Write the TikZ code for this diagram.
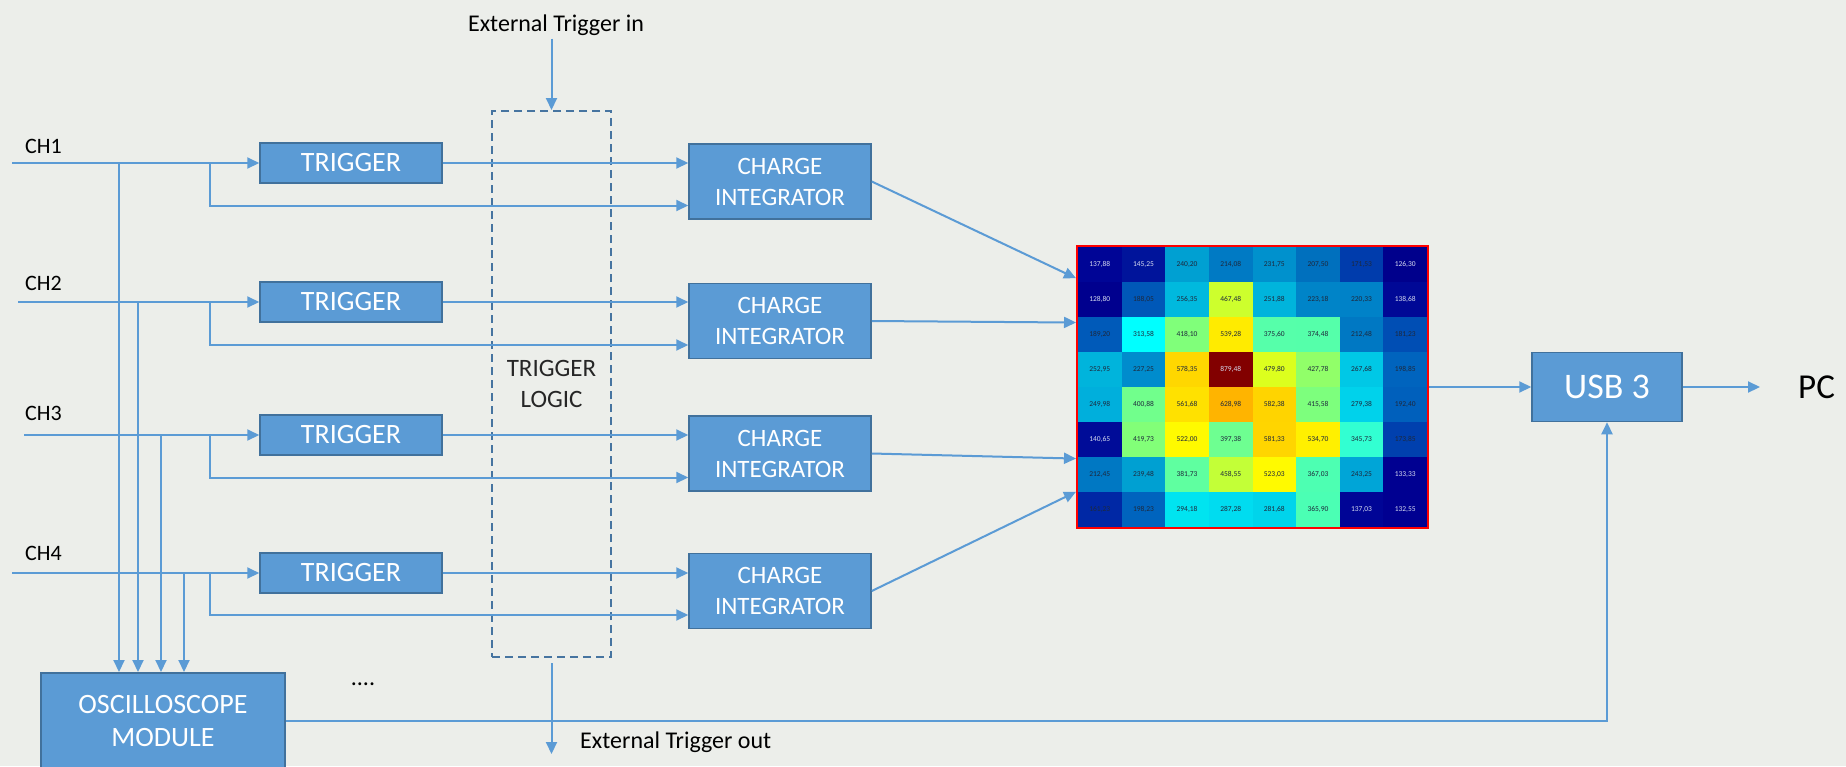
\documentclass[tikz,border=0pt]{standalone}
\usepackage{fontspec}
\setmainfont{Carlito}
\usetikzlibrary{arrows.meta,calc}

\definecolor{bg}{RGB}{236,238,234}
\definecolor{boxfill}{RGB}{91,155,213}
\definecolor{boxline}{RGB}{65,113,156}
\definecolor{wirec}{RGB}{91,155,213}
\definecolor{dashc}{RGB}{70,116,160}
\definecolor{hmframe}{RGB}{255,0,0}
\definecolor{hmw}{RGB}{215,220,240}
\definecolor{hmk}{RGB}{30,40,60}

\tikzset{
  block/.style={draw=boxline, line width=1.5pt, fill=boxfill, text=white,
                align=center, inner sep=0pt},
  wire/.style={draw=wirec, line width=2pt},
  arr/.style={wire, -{Triangle[length=12pt,width=11pt]}},
  lbl/.style={inner sep=0pt, text=black},
  trigbox/.style={block, minimum width=182pt, minimum height=40pt,
                  font=\fontsize{28}{33}\selectfont},
  intbox/.style={block, minimum width=182pt, minimum height=75pt,
                 font=\fontsize{25}{31}\selectfont},
}

% one row of the 8x8 charge map: value/R/G/B/text colour
\newcommand\hmrow[2]{%
  \foreach \cV/\cR/\cG/\cB/\cT [count=\i] in {#2} {
    \definecolor{cellc}{RGB}{\cR,\cG,\cB}
    \fill[cellc] ({1078+(\i-1)*43.625},{247+(#1-1)*35}) rectangle ++(43.625,35);
    \node[text=hm\cT, font=\fontsize{7.5}{9}\selectfont, inner sep=0pt]
      (c#1-\i) at ({1078+(\i-0.5)*43.625},{247+(#1-0.5)*35}) {\cV};
  }%
}

\begin{document}
\begin{tikzpicture}[x=1pt,y=-1pt]
\clip (0,0) rectangle (1846,766);
\fill[bg] (0,0) rectangle (1846,766);

% ---- charge map ----
\hmrow{1}{137{,}88/0/5/150/w, 145{,}25/0/20/155/w, 240{,}20/0/160/210/k, 214{,}08/0/122/196/k, 231{,}75/0/145/205/k, 207{,}50/0/112/190/k, 171{,}53/0/60/172/k, 126{,}30/0/0/140/w}
\hmrow{2}{128{,}80/0/0/142/w, 188{,}05/0/88/184/k, 256{,}35/0/185/222/k, 467{,}48/205/255/45/k, 251{,}88/0/180/220/k, 223{,}18/0/132/200/k, 220{,}33/0/130/200/k, 138{,}68/0/8/150/w}
\hmrow{3}{189{,}20/0/90/185/k, 313{,}58/0/255/255/k, 418{,}10/128/255/122/k, 539{,}28/255/235/0/k, 375{,}60/86/255/170/k, 374{,}48/85/255/170/k, 212{,}48/0/120/195/k, 181{,}23/0/78/180/k}
\hmrow{4}{252{,}95/0/180/220/k, 227{,}25/0/140/205/k, 578{,}35/255/215/0/k, 879{,}48/130/0/0/w, 479{,}80/220/255/30/k, 427{,}78/145/255/105/k, 267{,}68/0/200/230/k, 198{,}85/0/100/190/k}
\hmrow{5}{249{,}98/0/175/220/k, 400{,}88/113/255/140/k, 561{,}68/255/225/0/k, 628{,}98/255/180/0/k, 582{,}38/255/212/0/k, 415{,}58/125/255/125/k, 279{,}38/0/210/235/k, 192{,}40/0/96/188/k}
\hmrow{6}{140{,}65/0/12/152/w, 419{,}73/130/255/120/k, 522{,}00/255/250/0/k, 397{,}38/110/255/145/k, 581{,}33/255/213/0/k, 534{,}70/255/240/0/k, 345{,}73/50/255/210/k, 173{,}85/0/64/174/k}
\hmrow{7}{212{,}45/0/120/195/k, 239{,}48/0/160/210/k, 381{,}73/95/255/160/k, 458{,}55/195/255/55/k, 523{,}03/255/250/0/k, 367{,}03/77/255/178/k, 243{,}25/0/165/215/k, 133{,}33/0/0/145/w}
\hmrow{8}{161{,}23/0/40/165/k, 198{,}23/0/100/190/k, 294{,}18/0/228/240/k, 287{,}28/0/220/240/k, 281{,}68/0/212/235/k, 365{,}90/75/255/180/k, 137{,}03/0/5/150/w, 132{,}55/0/0/145/w}
\node[draw=hmframe, line width=2pt, minimum width=351pt, minimum height=282pt,
      inner sep=0pt] (hm) at (1252.5,387) {};

% ---- trigger logic ----
\node[draw=dashc, line width=2pt, dash pattern=on 8pt off 5pt,
      minimum width=119pt, minimum height=546pt, inner sep=0pt, align=center,
      text=black!85, font=\fontsize{25}{31}\selectfont]
  (logic) at (551.5,384) {TRIGGER\\LOGIC};
\node[lbl, font=\fontsize{24}{28}\selectfont] (extin) at (556,25) {External Trigger in};
\node[lbl, anchor=west, font=\fontsize{24}{28}\selectfont] (extout) at (580,742) {External Trigger out};
\coordinate (xo) at ($(logic.south)+(0,96)$);

% ---- channel blocks ----
\foreach \k/\y in {1/163, 2/302, 3/435, 4/573}
  \node[trigbox] (trig\k) at (351,\y) {TRIGGER};
\foreach \k/\y in {1/181.5, 2/321, 3/453.5, 4/591}
  \node[intbox] (ci\k) at (780,\y) {CHARGE\\INTEGRATOR};
\foreach \k/\y in {1/146, 2/283, 3/413, 4/553}
  \node[lbl, anchor=west, font=\fontsize{22}{26}\selectfont] (ch\k) at (25,\y) {CH\k};

\node[block, anchor=north, minimum width=244pt, minimum height=96pt,
      font=\fontsize{28}{33}\selectfont] (osc) at (163,672) {OSCILLOSCOPE\\MODULE};
\node[lbl, font=\fontsize{24}{28}\selectfont] (dots) at (363,684) {....};

\node[block, minimum width=150pt, minimum height=69pt,
      font=\fontsize{36}{40}\selectfont] (usb) at (1607,387) {USB 3};
\node[lbl, anchor=west, font=\fontsize{35}{40}\selectfont] (pc) at (1798,387) {PC};
\coordinate (pcin) at (1760,387);

% ---- connectors ----
\foreach \k/\y/\sx/\tx in {1/163/12/119, 2/302/18/138, 3/435/24/161, 4/573/12/184} {
  \coordinate (in\k) at (\sx,\y);
  \coordinate (tap\k) at (\tx,\y);
  \coordinate (br\k) at (210,\y);
  \draw[arr] (in\k) -- (trig\k.west);
  \draw[arr] (tap\k) -- (tap\k |- osc.north);
  \draw[arr] (br\k) |- ($(ci\k.west)+(0,24)$);
  \draw[arr] (trig\k.east) -- (trig\k.east -| ci\k.west);
}
\draw[arr] (ci1.east) -- ($(hm.north west)!0.117!(hm.south west)$);
\draw[arr] (ci2.east) -- ($(hm.north west)!0.273!(hm.south west)$);
\draw[arr] (ci3.east) -- ($(hm.north west)!0.752!(hm.south west)$);
\draw[arr] (ci4.east) -- ($(hm.north west)!0.869!(hm.south west)$);

\draw[arr] ($(extin.south -| logic.north)+(0,3)$) -- (logic.north);
\draw[arr] ($(logic.south)+(0,5)$) -- (xo);

\draw[arr] (hm.east) -- (usb.west);
\draw[arr] (usb.east) -- (pcin);
\draw[arr] (osc.east) -| (usb.south);
\end{tikzpicture}
\end{document}
